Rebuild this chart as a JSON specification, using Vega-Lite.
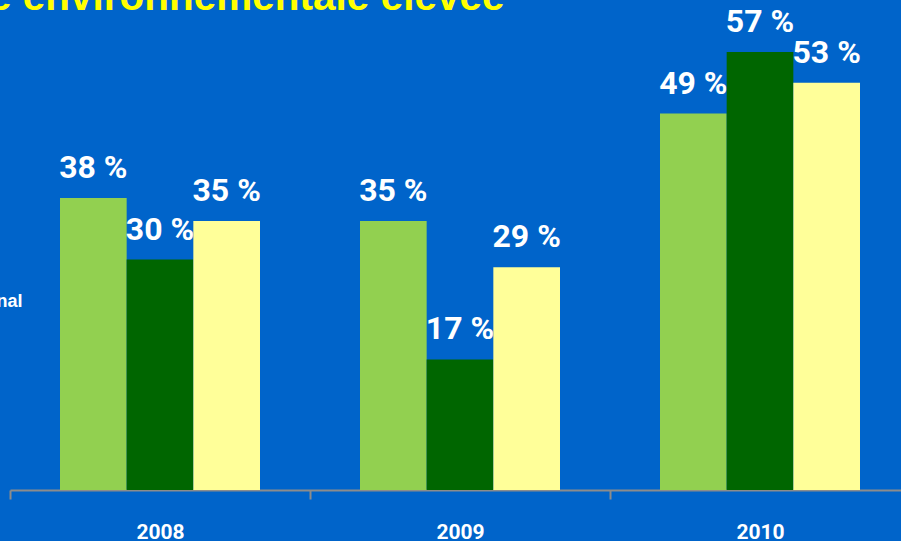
{
  "$schema": "https://vega.github.io/schema/vega-lite/v6.json",
  "width": 891,
  "height": 461,
  "autosize": {"type": "none"},
  "padding": {"left": 10, "top": 29, "right": 0, "bottom": 51},
  "background": "#0064CA",
  "title": {
    "text": "e environnementale élevée",
    "anchor": "start",
    "frame": "group",
    "dx": -21,
    "offset": -44,
    "baseline": "alphabetic",
    "font": "Liberation Sans",
    "fontSize": 40.5,
    "fontWeight": "bold",
    "color": "#FFFF00"
  },
  "config": {"view": {"stroke": null}},
  "data": {
    "values": [
      {"year": "2008", "series": "Série 1", "value": 38},
      {"year": "2008", "series": "Série 2", "value": 30},
      {"year": "2008", "series": "Série 3", "value": 35},
      {"year": "2009", "series": "Série 1", "value": 35},
      {"year": "2009", "series": "Série 2", "value": 17},
      {"year": "2009", "series": "Série 3", "value": 29},
      {"year": "2010", "series": "Série 1", "value": 49},
      {"year": "2010", "series": "Série 2", "value": 57},
      {"year": "2010", "series": "Série 3", "value": 53}
    ]
  },
  "encoding": {
    "x": {
      "field": "year",
      "type": "nominal",
      "scale": {"range": [0, 900], "paddingInner": 0, "paddingOuter": 0},
      "axis": {
        "title": null,
        "labelAngle": 0,
        "tickBand": "extent",
        "domainColor": "#8C8C8C",
        "domainWidth": 2,
        "tickColor": "#8C8C8C",
        "tickWidth": 2,
        "tickSize": 9,
        "labelColor": "#FFFFFF",
        "labelFont": "Roboto",
        "labelFontSize": 21,
        "labelFontWeight": "bold",
        "labelPadding": 22
      }
    },
    "xOffset": {
      "field": "series",
      "type": "nominal",
      "sort": ["Série 1", "Série 2", "Série 3"],
      "scale": {"paddingInner": 0, "paddingOuter": 0.75}
    },
    "y": {
      "field": "value",
      "type": "quantitative",
      "scale": {"domain": [0, 60], "nice": false},
      "axis": {
        "labels": false,
        "ticks": false,
        "domain": false,
        "grid": false,
        "title": "nal",
        "titleAngle": 0,
        "titleAlign": "left",
        "titleBaseline": "alphabetic",
        "titleX": -14,
        "titleY": 277,
        "titleColor": "#FFFFFF",
        "titleFont": "Liberation Sans",
        "titleFontSize": 18,
        "titleFontWeight": "bold"
      }
    }
  },
  "layer": [
    {
      "mark": {"type": "bar"},
      "encoding": {
        "color": {
          "field": "series",
          "type": "nominal",
          "scale": {"domain": ["Série 1", "Série 2", "Série 3"], "range": ["#92D050", "#006600", "#FFFF99"]},
          "legend": null
        }
      }
    },
    {
      "mark": {
        "type": "text",
        "text": {"expr": "datum.value + ' %'"},
        "dy": -20,
        "baseline": "alphabetic",
        "align": "center",
        "color": "#FFFFFF",
        "font": "Roboto",
        "fontSize": 32,
        "fontWeight": "bold"
      }
    }
  ]
}
